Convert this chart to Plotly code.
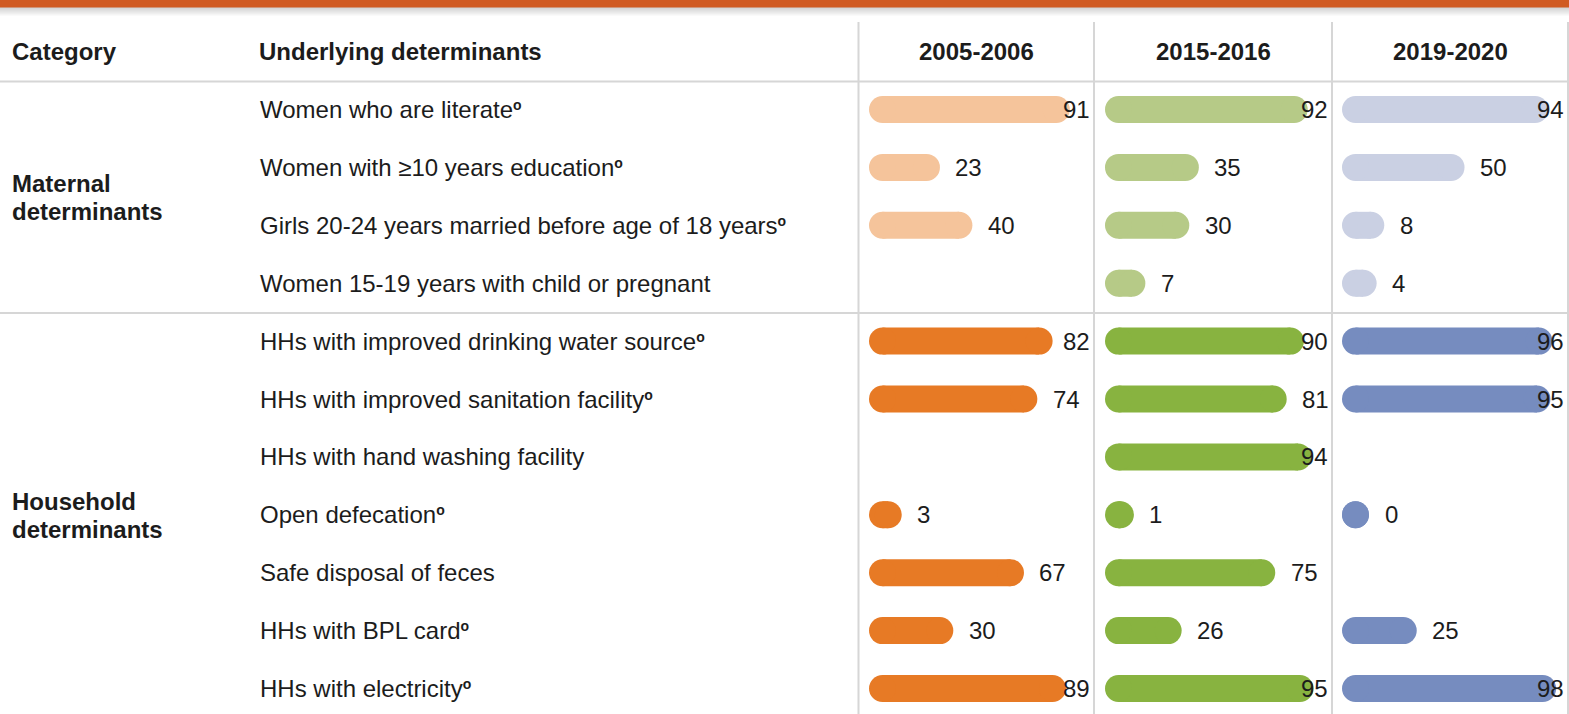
import plotly.graph_objects as go

# ---------------- data ----------------
periods = ["2005-2006", "2015-2016", "2019-2020"]
categories = ["Maternal determinants", "Household determinants"]
row_labels = [
    "Women who are literate",
    "Women with ≥10 years education",
    "Girls 20-24 years married before age of 18 years",
    "Women 15-19 years with child or pregnant",
    "HHs with improved drinking water source",
    "HHs with improved sanitation facility",
    "HHs with hand washing facility",
    "Open defecation",
    "Safe disposal of feces",
    "HHs with BPL card",
    "HHs with electricity",
]
row_footnote = [True, True, True, False, True, True, False, True, False, True, True]
row_category = [0, 0, 0, 0, 1, 1, 1, 1, 1, 1, 1]
values_2005 = [91, 23, 40, None, 82, 74, None, 3, 67, 30, 89]
values_2015 = [92, 35, 30, 7, 90, 81, 94, 1, 75, 26, 95]
values_2019 = [94, 50, 8, 4, 96, 95, None, 0, None, 25, 98]
series = [values_2005, values_2015, values_2019]

# colours: [light (maternal), dark (household)] per period
colors = [
    ["#F5C49B", "#E77A25"],
    ["#B6CA87", "#88B340"],
    ["#CAD0E3", "#768CBF"],
]

# ---------------- layout constants ----------------
W, H = 1569, 714
ROW0, STEP = 109.5, 57.9          # pixel centre of first row, row pitch
K = 1.91                          # pixels per percentage point
THICK = 27                        # bar thickness / cap diameter
col_lines = [858.5, 1094, 1332, 1568]
zero_px = [882.5, 1118.5, 1355.5]
FONT = "Liberation Sans, Arial, sans-serif"
TXT = "#1c1c1c"
GRID = "#D6D6D6"


def py(p):
    return (p - ROW0) / STEP


fig = go.Figure()

axis_names = ["x", "x2", "x3"]
for j, vals in enumerate(series):
    for i, v in enumerate(vals):
        if v is None:
            continue
        c = colors[j][row_category[i]]
        fig.add_trace(go.Scatter(
            x=[0, v], y=[i, i], xaxis=axis_names[j], yaxis="y",
            mode="lines+markers",
            line=dict(color=c, width=THICK),
            marker=dict(color=c, size=THICK, line=dict(width=0)),
            hoverinfo="skip", showlegend=False, cliponaxis=False,
        ))

layout_axes = {}
for j in range(3):
    lo = (col_lines[j] - zero_px[j]) / K
    hi = (col_lines[j + 1] - zero_px[j]) / K
    key = "xaxis" if j == 0 else f"xaxis{j+1}"
    layout_axes[key] = dict(domain=[col_lines[j] / W, col_lines[j + 1] / W],
                            range=[lo, hi], visible=False, fixedrange=True,
                            anchor="y")

annotations = []
# value labels
for j, vals in enumerate(series):
    right_limit = (col_lines[j + 1] - 3 - zero_px[j]) / K
    for i, v in enumerate(vals):
        if v is None:
            continue
        txt = str(v)
        left = v + (THICK / 2 + 14.5) / K
        width = len(txt) * 13.35 / K
        if left + width > right_limit:
            x, anchor = right_limit, "right"
        else:
            x, anchor = left, "left"
        annotations.append(dict(
            x=x, y=i, xref=axis_names[j], yref="y", text=txt,
            xanchor=anchor, yanchor="middle", showarrow=False, borderpad=0,
            font=dict(family=FONT, size=24, color=TXT)))

# row labels
for i, lab in enumerate(row_labels):
    t = lab + ("<span style='font-size:20px'><sup><b>o</b></sup></span>"
               if row_footnote[i] else "")
    annotations.append(dict(
        x=259 / W, y=i, xref="paper", yref="y", text=t,
        xanchor="left", yanchor="middle", showarrow=False, borderpad=0,
        font=dict(family=FONT, size=24, color=TXT)))

# category labels (two lines each)
for g, name in enumerate(categories):
    rows = [i for i, c in enumerate(row_category) if c == g]
    mid_px = ROW0 + STEP * (rows[0] + rows[-1]) / 2 + 1
    words = name.split(" ")
    for k, w in enumerate(words):
        annotations.append(dict(
            x=11 / W, y=py(mid_px + (k - 0.5) * 28.3), xref="paper", yref="y",
            text=f"<b>{w}</b>", xanchor="left", yanchor="middle",
            showarrow=False, borderpad=0,
            font=dict(family=FONT, size=24, color=TXT)))

# headers
head_y = py(51)
annotations.append(dict(x=11 / W, y=head_y, xref="paper", yref="y",
                        text="<b>Category</b>", xanchor="left", yanchor="middle",
                        showarrow=False, borderpad=0,
                        font=dict(family=FONT, size=24, color=TXT)))
annotations.append(dict(x=258 / W, y=head_y, xref="paper", yref="y",
                        text="<b>Underlying determinants</b>", xanchor="left",
                        yanchor="middle", showarrow=False, borderpad=0,
                        font=dict(family=FONT, size=24, color=TXT)))
for j, p in enumerate(periods):
    cx = (col_lines[j] + col_lines[j + 1]) / 2
    annotations.append(dict(x=cx / W, y=head_y, xref="paper", yref="y",
                            text=f"<b>{p}</b>", xanchor="center",
                            yanchor="middle", showarrow=False, borderpad=0,
                            font=dict(family=FONT, size=24, color=TXT)))

shapes = []
# top banner with soft shadow
for s in range(9):
    a = 0.28 * (1 - s / 9)
    shapes.append(dict(type="rect", xref="paper", yref="paper",
                       x0=0, x1=1, y0=1 - (8 + s) / H, y1=1 - (7 + s) / H,
                       fillcolor=f"rgba(90,90,90,{a:.3f})", line=dict(width=0),
                       layer="above"))
shapes.append(dict(type="rect", xref="paper", yref="paper", x0=0, x1=1,
                   y0=1 - 7.5 / H, y1=1, fillcolor="#D05A22",
                   line=dict(width=0), layer="above"))
# grid lines
for p in [81.5, 313]:
    shapes.append(dict(type="line", xref="paper", yref="y", x0=0, x1=1,
                       y0=py(p), y1=py(p), line=dict(color=GRID, width=2),
                       layer="below"))
for cxp in col_lines:
    shapes.append(dict(type="line", xref="paper", yref="y",
                       x0=cxp / W, x1=cxp / W, y0=py(22), y1=py(H),
                       line=dict(color=GRID, width=2), layer="below"))

fig.update_layout(
    width=W, height=H,
    margin=dict(l=0, r=0, t=0, b=0),
    paper_bgcolor="white", plot_bgcolor="white",
    yaxis=dict(range=[py(H), py(0)], visible=False, fixedrange=True,
               domain=[0, 1]),
    annotations=annotations, shapes=shapes,
    showlegend=False,
    **layout_axes,
)

fig.write_html(
    "out.html",
    config={"displayModeBar": False},
    post_script="document.body.style.margin='0';document.body.style.padding='0';"
                "document.body.style.overflow='hidden';",
)
